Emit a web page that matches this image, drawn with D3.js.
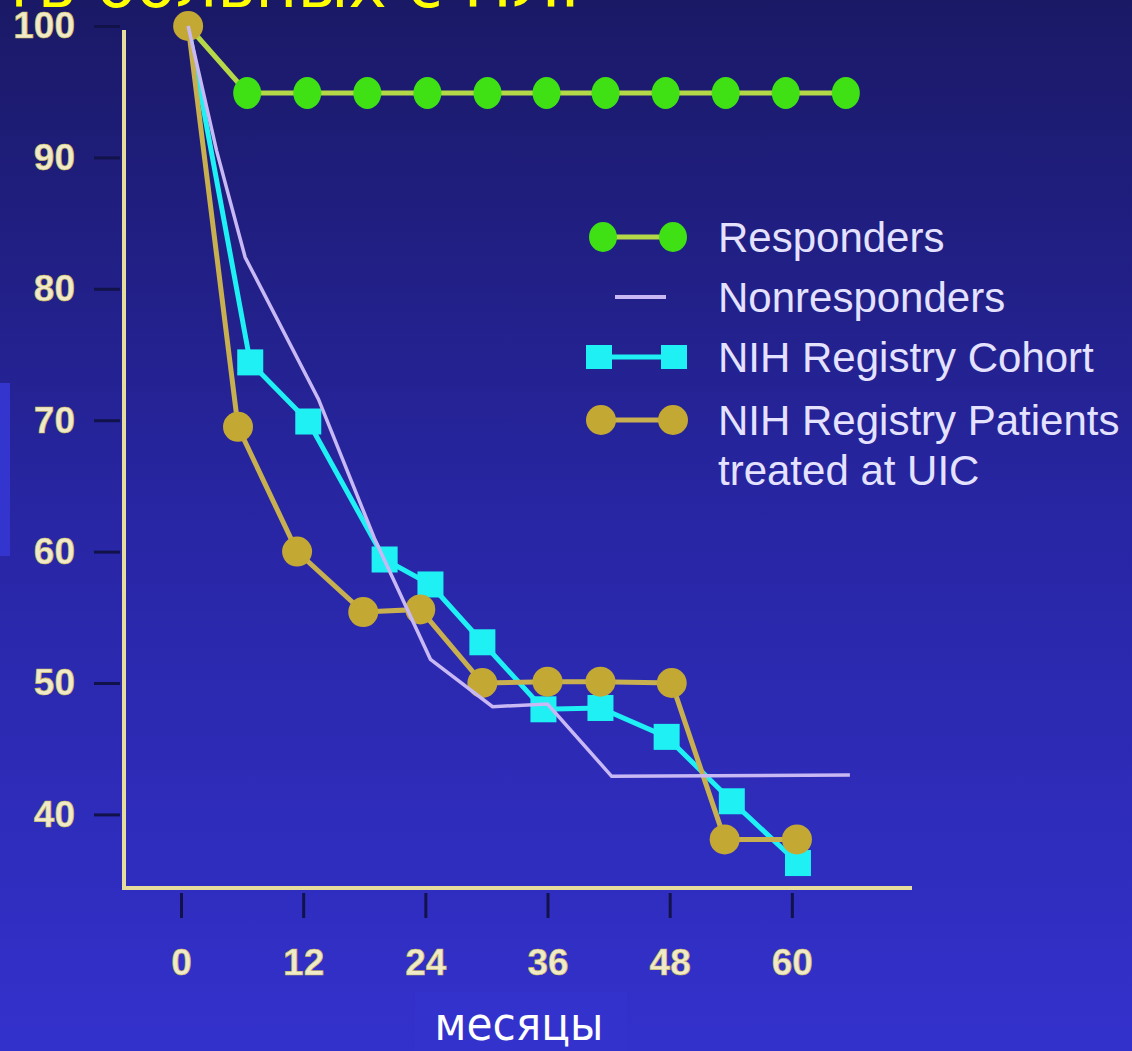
<!DOCTYPE html>
<html>
<head>
<meta charset="utf-8">
<script src="https://cdnjs.cloudflare.com/ajax/libs/d3/7.8.5/d3.min.js"></script>
<style>
  html, body { margin: 0; padding: 0; background: #2a2aa8; overflow: hidden; }
  svg { display: block; }
</style>
</head>
<body>
<svg id="chart" width="1132" height="1051"></svg>
<script>
// ---------------- data ----------------
const titleText = "Выживаемость больных с ПЛГ";
const xAxisLabel = "месяцы";
const xTicks = [0, 12, 24, 36, 48, 60];
const yTicks = [40, 50, 60, 70, 80, 90, 100];

const legendLabels = ["Responders", "Nonresponders", "NIH Registry Cohort", "NIH Registry Patients|treated at UIC"];

const respondersMonths = [0.7, 6.5, 12.4, 18.3, 24.2, 30.1, 35.9, 41.7, 47.6, 53.5, 59.4, 65.3];
const respondersValues = [100, 94.9, 94.9, 94.9, 94.9, 94.9, 94.9, 94.9, 94.9, 94.9, 94.9, 94.9];

const nonrespondersMonths = [0.7, 3.5, 6.3, 13.5, 19.0, 24.5, 30.6, 36.0, 42.3, 65.7];
const nonrespondersValues = [100, 90.5, 82.4, 71.6, 61.0, 51.8, 48.2, 48.4, 42.9, 43.0];

const cohortMonths = [0.7, 6.8, 12.5, 20.0, 24.5, 29.6, 35.6, 41.2, 47.7, 54.1, 60.6];
const cohortValues = [100, 74.4, 69.9, 59.4, 57.5, 53.1, 48.0, 48.1, 45.9, 41.0, 36.3];

const uicMonths = [0.7, 5.6, 11.4, 17.9, 23.5, 29.6, 36.0, 41.2, 48.2, 53.4, 60.5];
const uicValues = [100, 69.5, 60.0, 55.4, 55.6, 50.0, 50.1, 50.1, 50.0, 38.1, 38.1];

// ---------------- setup ----------------
const svg = d3.select("#chart");
const W = 1132, H = 1051;

const defs = svg.append("defs");
const grad = defs.append("linearGradient").attr("id", "bg").attr("x1", 0).attr("y1", 0).attr("x2", 0).attr("y2", 1);
grad.append("stop").attr("offset", "0%").attr("stop-color", "#1a1966");
grad.append("stop").attr("offset", "50%").attr("stop-color", "#2826a4");
grad.append("stop").attr("offset", "100%").attr("stop-color", "#3331cc");
svg.append("rect").attr("width", W).attr("height", H).attr("fill", "url(#bg)");

// slide artifacts
svg.append("rect").attr("x", 0).attr("y", 383).attr("width", 10).attr("height", 173).attr("fill", "#3434cf");
svg.append("rect").attr("x", 415).attr("y", 992).attr("width", 212).attr("height", 59).attr("fill", "#3432cc");

const x = d3.scaleLinear().domain([-5.6, 71.8]).range([124, 912]);
const y = d3.scaleLinear().domain([34.4, 100]).range([888, 26]);

// title (partially cut at top, as in the reference)
const titleFont = "DejaVu Sans, Verdana, sans-serif";
const probe = svg.append("text").attr("font-family", titleFont).attr("font-size", 100).text("ть больных с ПЛГ");
const probeW = probe.node().getComputedTextLength();
probe.remove();
const titleSize = 100 * 600 / probeW;
svg.append("text")
  .attr("x", 600).attr("y", 7)
  .attr("text-anchor", "end")
  .attr("font-family", titleFont)
  .attr("font-size", titleSize)
  .attr("fill", "#ffff00")
  .text(titleText);

// ---------------- axes ----------------
const tickColor = "#12124a";
const labelColor = "#f0eac8";
const axisColor = "#e6dc9c";

const yAxis = d3.axisLeft(y).tickValues(yTicks).tickSize(30).tickPadding(19).tickSizeOuter(0).tickFormat(d3.format("d"));
const gy = svg.append("g").attr("transform", `translate(${x(-5.6)},0)`).call(yAxis);
gy.select(".domain").remove();
gy.selectAll(".tick line").attr("stroke", tickColor).attr("stroke-width", 3).attr("x2", -30).attr("x1", -4);
gy.selectAll(".tick text").attr("fill", labelColor).attr("font-family", "Liberation Sans, Arial, sans-serif")
  .attr("font-size", 37).attr("font-weight", "bold").attr("stroke", "#c8b850").attr("stroke-width", 0.6);

const xAxis = d3.axisBottom(x).tickValues(xTicks).tickSize(30).tickPadding(31).tickSizeOuter(0);
const gx = svg.append("g").attr("transform", `translate(0,${y(34.4)})`).call(xAxis);
gx.select(".domain").remove();
gx.selectAll(".tick line").attr("stroke", tickColor).attr("stroke-width", 3).attr("y1", 5);
gx.selectAll(".tick text").attr("fill", labelColor).attr("font-family", "Liberation Sans, Arial, sans-serif")
  .attr("font-size", 37).attr("font-weight", "bold").attr("stroke", "#c8b850").attr("stroke-width", 0.6);

// axis lines
svg.append("path")
  .attr("d", `M${x(-5.6)},${y(99.7)} V${y(34.4)} H${x(71.8)}`)
  .attr("fill", "none").attr("stroke", axisColor).attr("stroke-width", 4);

// x axis title
svg.append("text")
  .attr("x", 519).attr("y", 1040)
  .attr("text-anchor", "middle")
  .attr("font-family", "DejaVu Sans Condensed, DejaVu Sans, sans-serif")
  .attr("font-stretch", "condensed")
  .attr("font-size", 47)
  .attr("fill", "#ffffff")
  .text(xAxisLabel);

// ---------------- series ----------------
const line = d3.line().x(d => x(d[0])).y(d => y(d[1]));
const zip = (a, b) => a.map((v, i) => [v, b[i]]);

const responders = zip(respondersMonths, respondersValues);
const nonresponders = zip(nonrespondersMonths, nonrespondersValues);
const cohort = zip(cohortMonths, cohortValues);
const uic = zip(uicMonths, uicValues);

const cGreen = "#3fe014", cGreenLine = "#b4d848";
const cCyan = "#1ff0f4";
const cGold = "#c4a834", cGoldLine = "#c8b050";
const cLav = "#c8b8f4";

// responders line
svg.append("path").attr("d", line(responders)).attr("fill", "none").attr("stroke", cGreenLine).attr("stroke-width", 5);

// cohort
svg.append("path").attr("d", line(cohort)).attr("fill", "none").attr("stroke", cCyan).attr("stroke-width", 5);
svg.selectAll("rect.cohort").data(cohort.slice(1)).join("rect").attr("class", "cohort")
  .attr("x", d => x(d[0]) - 13).attr("y", d => y(d[1]) - 13).attr("width", 26).attr("height", 26).attr("fill", cCyan);

// UIC
svg.append("path").attr("d", line(uic)).attr("fill", "none").attr("stroke", cGoldLine).attr("stroke-width", 5);
svg.selectAll("circle.uic").data(uic).join("circle").attr("class", "uic")
  .attr("cx", d => x(d[0])).attr("cy", d => y(d[1])).attr("r", 15).attr("fill", cGold);

// nonresponders
svg.append("path").attr("d", line(nonresponders)).attr("fill", "none").attr("stroke", cLav).attr("stroke-width", 3.5);

// responders markers
svg.selectAll("ellipse.resp").data(responders.slice(1)).join("ellipse").attr("class", "resp")
  .attr("cx", d => x(d[0])).attr("cy", d => y(d[1])).attr("rx", 14).attr("ry", 16).attr("fill", cGreen);

// ---------------- legend ----------------
const legX1 = 603, legX2 = 673, legText = 718;
const legY = [237, 297, 357, 420];
const lg = svg.append("g");
// Responders
lg.append("line").attr("x1", legX1).attr("x2", legX2).attr("y1", legY[0]).attr("y2", legY[0]).attr("stroke", cGreenLine).attr("stroke-width", 5);
lg.selectAll("ellipse").data([legX1, legX2]).join("ellipse").attr("cx", d => d).attr("cy", legY[0]).attr("rx", 14).attr("ry", 15).attr("fill", cGreen);
// Nonresponders
lg.append("line").attr("x1", 615).attr("x2", 666).attr("y1", legY[1]).attr("y2", legY[1]).attr("stroke", cLav).attr("stroke-width", 4);
// Cohort
lg.append("line").attr("x1", legX1).attr("x2", legX2).attr("y1", legY[2]).attr("y2", legY[2]).attr("stroke", cCyan).attr("stroke-width", 5);
lg.selectAll("rect").data([legX1 - 4, legX2 + 1]).join("rect").attr("x", d => d - 13).attr("y", legY[2] - 12).attr("width", 26).attr("height", 24).attr("fill", cCyan);
// UIC
lg.append("line").attr("x1", legX1).attr("x2", legX2).attr("y1", legY[3]).attr("y2", legY[3]).attr("stroke", cGoldLine).attr("stroke-width", 5);
lg.selectAll("circle").data([legX1 - 2, legX2]).join("circle").attr("cx", d => d).attr("cy", legY[3]).attr("r", 15).attr("fill", cGold);

legendLabels.forEach((lab, i) => {
  const parts = lab.split("|");
  const t = lg.append("text").attr("x", legText).attr("y", legY[i] + 15)
    .attr("font-family", "Liberation Sans, Arial, sans-serif").attr("font-size", 42)
    .attr("fill", "#e4e2ff");
  parts.forEach((p, j) => {
    t.append("tspan").attr("x", legText).attr("dy", j === 0 ? 0 : 50).text(p);
  });
});
</script>
</body>
</html>
